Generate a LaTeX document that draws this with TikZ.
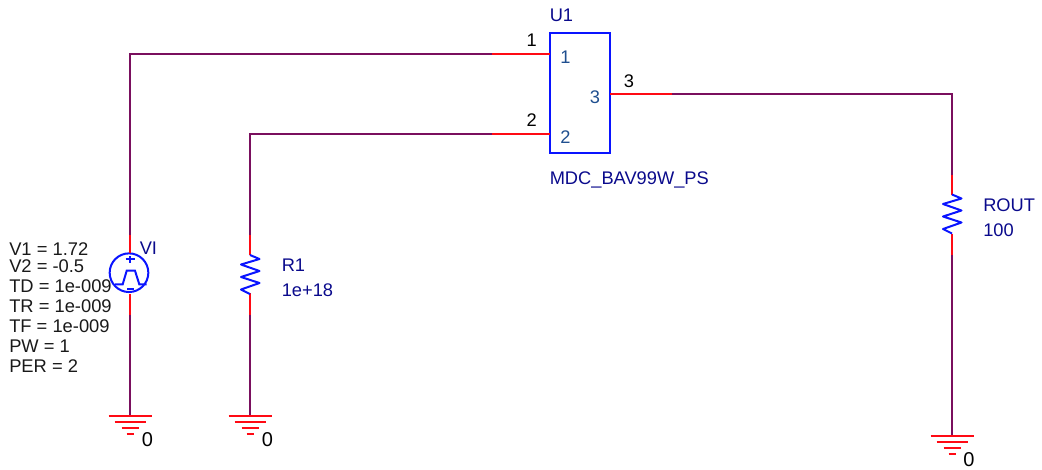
\documentclass[tikz,border=0pt]{standalone}
\usepackage{fontspec}
\setmainfont{Liberation Sans}
\definecolor{wirecol}{HTML}{7A0F5E}
\definecolor{pincol}{HTML}{FF0A14}
\definecolor{partcol}{HTML}{0A0A8C}
\definecolor{numcol}{HTML}{1F4F8F}
\definecolor{symcol}{HTML}{0A14FF}
\tikzset{
	wire/.style={draw=wirecol, line width=1.6pt},
	pinline/.style={draw=pincol, line width=1.5pt},
	symline/.style={draw=symcol, line width=1.5pt},
	partlabel/.style={anchor=base west, inner sep=0pt, text=partcol, font=\fontsize{13.7}{15}\selectfont},
	pinlabel/.style={partlabel, text=numcol},
	netlabel/.style={partlabel, text=black},
	paramlabel/.style={partlabel, text=black!90, font=\fontsize{13.75}{15}\selectfont},
	gndlabel/.style={partlabel, text=black, font=\fontsize{15}{17}\selectfont},
}
% zigzag of a resistor, 39 px long
\newcommand{\reszag}[1]{\draw[symline, line join=round] (#1) -- ++(9.5,4) -- ++(-18.5,5.5) -- ++(18.5,6.5) -- ++(-18.5,6) -- ++(18.5,6) -- ++(-18.5,6.5) -- ++(9,4.5);}
% ground symbol, four bars
\newcommand{\gndbars}[1]{\foreach \dy/\hw in {0/21.5, 6/15.5, 12/8.5, 18/3.5}
	\draw[pinline] ([shift={(-\hw,\dy)}]#1) -- ([shift={(\hw,\dy)}]#1);}

\begin{document}
\begin{tikzpicture}[x=0.75pt, y=-0.75pt]
	\useasboundingbox (0,0) rectangle (1042,469);

	% part U1
	\node[symline, rectangle, inner sep=0pt, minimum width=45pt, minimum height=90pt] (U1) at (580,93) {};
	\coordinate (U1a) at (550,54);
	\coordinate (U1b) at (550,134);
	\coordinate (U1c) at (610,94);
	\coordinate (U1aw) at (492,54);
	\coordinate (U1bw) at (492,134);
	\coordinate (U1cw) at (672,94);

	% source VI
	\node[symline, circle, inner sep=0pt, minimum size=29pt] (VI) at (129,272.7) {};
	\coordinate (VIa) at (130,235);
	\coordinate (VIat) at (130,253);
	\coordinate (VIb) at (130,315);
	\coordinate (VIbt) at (130,294);
	\coordinate (VIcorner) at (130,54);
	\coordinate (G1) at (130,415.5);

	% resistors
	\coordinate (R1t) at (250,235);
	\coordinate (R1a) at (250,255);
	\coordinate (R1b) at (250,293);
	\coordinate (R1c) at (250,315);
	\coordinate (R1corner) at (250,134);
	\coordinate (G2) at (250,415.5);

	\coordinate (ROt) at (952,175);
	\coordinate (ROa) at (952,194.5);
	\coordinate (ROb) at (952,233.5);
	\coordinate (ROc) at (952,255);
	\coordinate (ROcorner) at (952,94);
	\coordinate (G3) at (952,435.5);

	% wires
	\draw[wire] (U1aw) -- (VIcorner) -- (VIa);
	\draw[wire] (U1bw) -- (R1corner) -- (R1t);
	\draw[wire] (U1cw) -- (ROcorner) -- (ROt);
	\draw[wire] (VIb) -- (G1);
	\draw[wire] (R1c) -- (G2);
	\draw[wire] (ROc) -- (G3);

	% pins
	\draw[pinline] (U1aw) -- (U1a);
	\draw[pinline] (U1bw) -- (U1b);
	\draw[pinline] (U1cw) -- (U1c);
	\draw[pinline] (VIa) -- (VIat);
	\draw[pinline] (VIb) -- (VIbt);
	\draw[pinline] (R1t) -- (R1a);
	\draw[pinline] (R1c) -- (R1b);
	\draw[pinline] (ROt) -- (ROa);
	\draw[pinline] (ROc) -- (ROb);

	% symbols
	\reszag{R1a}
	\reszag{ROa}
	\gndbars{G1}
	\gndbars{G2}
	\gndbars{G3}
	\draw[symline] (115,284.3) -- (122.7,284.3) -- (126.7,270.7) -- (135,270.7) -- (139.3,284.3) -- (146.7,284.3);
	\draw[symline] (125.5,259.3) -- (134.5,259.3);
	\draw[symline] (130,256) -- (130,262.5);
	\draw[symline] (127,289) -- (134,289);

	% labels
	\node[partlabel] (U1ref) at (549.5,21) {U1};
	\node[partlabel] (U1val) at (549.5,184) {MDC\_BAV99W\_PS};
	\node[pinlabel] (pina) at (560,63) {1};
	\node[pinlabel] (pinb) at (560,143) {2};
	\node[pinlabel] (pinc) at (589.5,103) {3};
	\node[netlabel] (neta) at (526.3,46.7) {1};
	\node[netlabel] (netb) at (526.3,126.7) {2};
	\node[netlabel] (netc) at (623.5,87) {3};
	\node[partlabel] (VIref) at (139.5,254) {VI};
	\node[partlabel] (R1ref) at (281.5,271.7) {R1};
	\node[partlabel] (R1val) at (281.5,296) {1e+18};
	\node[partlabel] (ROref) at (983,211.7) {ROUT};
	\node[partlabel] (ROval) at (983,236) {100};
	\node[paramlabel] (pV1) at (9,255.5) {V1 = 1.72};
	\node[paramlabel] (pV2) at (9,272) {V2 = -0.5};
	\node[paramlabel] (pTD) at (9,292) {TD = 1e-009};
	\node[paramlabel] (pTR) at (9,312) {TR = 1e-009};
	\node[paramlabel] (pTF) at (9,332) {TF = 1e-009};
	\node[paramlabel] (pPW) at (9,352) {PW = 1};
	\node[paramlabel] (pPER) at (9,372.7) {PER = 2};
	\node[gndlabel] (zeroa) at (141.7,446.7) {0};
	\node[gndlabel] (zerob) at (261.5,446.7) {0};
	\node[gndlabel] (zeroc) at (963,466.7) {0};
\end{tikzpicture}
\end{document}
